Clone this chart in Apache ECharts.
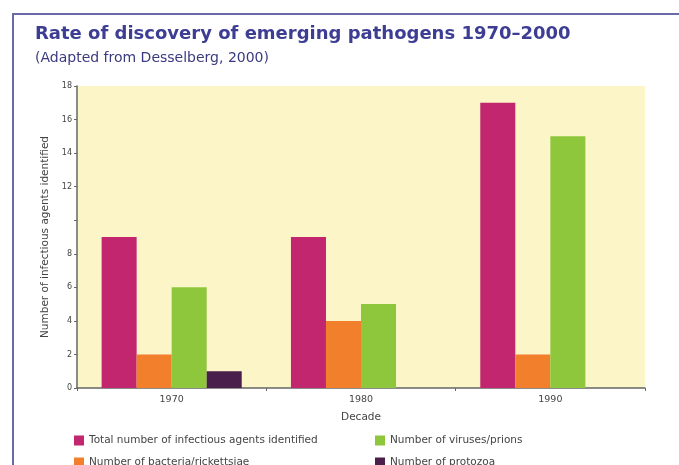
<!DOCTYPE html>
<html>
<head>
<meta charset="utf-8">
<script src="https://cdn.jsdelivr.net/npm/echarts@6/dist/echarts.min.js"></script>
<style>
  html, body { margin: 0; padding: 0; background: #ffffff; }
  #chart { width: 679px; height: 465px; }
</style>
</head>
<body>
<div id="chart"></div>
<script>
// Emerging pathogens discovered per decade
const decades = ['1970', '1980', '1990'];
const totalAgents = [9, 9, 17];
const bacteria = [2, 4, 2];
const viruses = [6, 5, 15];
const protozoa = [1, null, null];
const yTickLabels = [0, 2, 4, 6, 8, 12, 14, 16, 18];

const seriesNames = [
  'Total number of infectious agents identified',
  'Number of bacteria/rickettsiae',
  'Number of viruses/prions',
  'Number of protozoa'
];
const seriesColors = ['#c2266f', '#f27f2c', '#8ec63c', '#4a1f4c'];
const seriesData = [totalAgents, bacteria, viruses, protozoa];

const font = '"DejaVu Sans", Lato, sans-serif';

const legendSlots = [
  { left: 69, top: 430 },
  { left: 69, top: 452 },
  { left: 370, top: 430 },
  { left: 370, top: 452 }
];

const chart = echarts.init(document.getElementById('chart'));
chart.setOption({
  animation: false,
  backgroundColor: '#ffffff',
  graphic: [{
    type: 'rect',
    shape: { x: 13, y: 14, width: 720, height: 520 },
    style: { fill: 'none', stroke: '#6a6aa8', lineWidth: 2 }
  }],
  title: {
    text: 'Rate of discovery of emerging pathogens 1970\u20132000',
    subtext: '(Adapted from Desselberg, 2000)',
    left: 30,
    top: 20,
    itemGap: 8,
    textStyle: { fontFamily: font, fontSize: 18, fontWeight: 'bold', color: '#3d3d94' },
    subtextStyle: { fontFamily: font, fontSize: 14, color: '#3a3a80' }
  },
  legend: seriesNames.map((name, i) => ({
    data: [name],
    left: legendSlots[i].left,
    top: legendSlots[i].top,
    itemWidth: 10,
    itemHeight: 10,
    itemGap: 5,
    icon: 'rect',
    selectedMode: false,
    textStyle: { fontFamily: font, fontSize: 10.5, color: '#444' }
  })),
  grid: {
    left: 77, right: 34, top: 86, bottom: 77,
    show: true, backgroundColor: '#fcf5c8', borderWidth: 0
  },
  xAxis: {
    type: 'category',
    data: decades,
    name: 'Decade',
    nameLocation: 'middle',
    nameGap: 24,
    nameTextStyle: { fontFamily: font, fontSize: 10.5, color: '#444' },
    axisLine: { lineStyle: { color: '#666', width: 1.5 } },
    axisTick: { show: true, length: 3, lineStyle: { color: '#666' } },
    axisLabel: { fontFamily: font, fontSize: 9.5, color: '#444', margin: 7 }
  },
  yAxis: {
    type: 'value',
    min: 0,
    max: 18,
    interval: 2,
    name: 'Number of infectious agents identified',
    nameLocation: 'middle',
    nameGap: 26,
    nameTextStyle: { fontFamily: font, fontSize: 10.5, color: '#444' },
    splitLine: { show: false },
    axisLine: { show: true, lineStyle: { color: '#666', width: 1.5 } },
    axisTick: { show: true, length: 3, lineStyle: { color: '#666' } },
    axisLabel: {
      fontFamily: font, fontSize: 8, color: '#444', margin: 5,
      formatter: v => (yTickLabels.includes(v) ? String(v) : '')
    }
  },
  series: seriesNames.map((name, i) => ({
    type: 'bar',
    name: name,
    data: seriesData[i],
    barGap: '0%',
    barCategoryGap: '26%',
    itemStyle: { color: seriesColors[i] }
  }))
});
</script>
</body>
</html>
